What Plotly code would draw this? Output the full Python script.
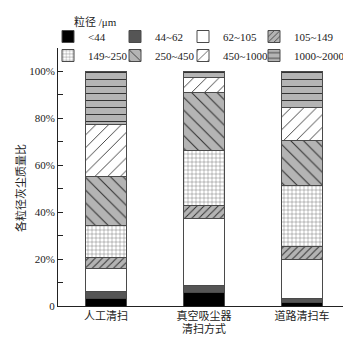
import plotly.graph_objects as go

methods = ["人工清扫", "真空吸尘器", "道路清扫车"]
size_classes = ["<44", "44~62", "62~105", "105~149", "149~250", "250~450", "450~1000", "1000~2000"]
# mass fraction (%) of each size class, per cleaning method
v_lt44 = [3.0, 5.6, 1.6]
v_44_62 = [3.3, 3.1, 1.8]
v_62_105 = [9.6, 28.5, 16.4]
v_105_149 = [4.9, 5.7, 5.4]
v_149_250 = [13.7, 23.2, 26.0]
v_250_450 = [20.9, 24.9, 19.2]
v_450_1000 = [21.8, 6.3, 14.2]
v_1000_2000 = [22.8, 2.7, 15.4]
series = [v_lt44, v_44_62, v_62_105, v_105_149, v_149_250, v_250_450, v_450_1000, v_1000_2000]

y_tick_vals = [0, 20, 40, 60, 80, 100]
y_tick_text = ["0", "20%", "40%", "60%", "80%", "100%"]

styles = [
    dict(bg="#000000", shape="", size=8, sol=0.3),
    dict(bg="#555555", shape="", size=8, sol=0.3),
    dict(bg="#ffffff", shape="", size=8, sol=0.3),
    dict(bg="#b4b4b4", shape="/", size=5, sol=0.2),
    dict(bg="#ffffff", shape="+", size=4, sol=0.15),
    dict(bg="#b4b4b4", shape="\\", size=9, sol=0.12),
    dict(bg="#ffffff", shape="/", size=9, sol=0.1),
    dict(bg="#b4b4b4", shape="-", size=7, sol=0.15),
]

FONT = "'Liberation Serif', 'Noto Sans CJK SC', serif"
W, H = 351, 338
L, R, T, B = 50, 8, 40, 40
PW, PH = W - L - R, H - T - B
legend_ids = ["legend", "legend2", "legend3", "legend4"]

fig = go.Figure()
for i, (name, vals, st) in enumerate(zip(size_classes, series, styles)):
    marker = dict(color=st["bg"], line=dict(color="#4a4a4a", width=1))
    if st["shape"]:
        marker["pattern"] = dict(shape=st["shape"], bgcolor=st["bg"], fgcolor="#333333",
                                 size=st["size"], solidity=st["sol"], fillmode="replace")
    fig.add_trace(go.Bar(x=list(range(len(methods))), y=vals, name=name, width=0.41,
                         marker=marker, legend=legend_ids[i % 4]))

legend_common = dict(
    orientation="v", xanchor="left", xref="container",
    y=1 - 14 / H, yanchor="top", yref="container",
    font=dict(size=11), tracegroupgap=0, itemwidth=30,
    traceorder="normal", bgcolor="rgba(0,0,0,0)",
)
col_x = [40, 107, 175, 246]
legend_layout = {lid: dict(legend_common, x=cx / W) for lid, cx in zip(legend_ids, col_x)}

fig.update_layout(
    barmode="stack",
    width=W, height=H,
    margin=dict(l=L, r=R, t=T, b=B, autoexpand=False),
    paper_bgcolor="white", plot_bgcolor="white",
    font=dict(family=FONT, size=11, color="#222"),
    showlegend=True,
    **legend_layout,
    xaxis=dict(
        tickmode="array", tickvals=list(range(len(methods))), ticktext=methods,
        range=[-0.49, 2.5], showline=True, linecolor="#222", linewidth=1,
        ticks="", showgrid=False, zeroline=False,
        tickfont=dict(size=11),
    ),
    yaxis=dict(
        range=[0, 110], tickmode="array", tickvals=y_tick_vals, ticktext=y_tick_text,
        ticks="inside", ticklen=5, tickcolor="#222",
        minor=dict(tickmode="array", tickvals=[10, 30, 50, 70, 90, 110], ticks="inside",
                   ticklen=5, tickcolor="#222"),
        showline=True, linecolor="#222", linewidth=1, showgrid=False, zeroline=False,
        tickfont=dict(size=11),
    ),
)
fig.add_annotation(text="粒径 /μm", xref="paper", yref="paper",
                   x=(64 - L) / PW, y=(H - B - 13) / PH,
                   xanchor="left", yanchor="middle", showarrow=False, font=dict(size=11))
fig.add_annotation(text="各粒径灰尘质量比", xref="paper", yref="paper",
                   x=(12 - L) / PW, y=(H - B - 180) / PH, textangle=-90,
                   xanchor="center", yanchor="middle", showarrow=False, font=dict(size=11))
fig.add_annotation(text="清扫方式", xref="paper", yref="paper",
                   x=(196 - L) / PW, y=(H - B - 320) / PH,
                   xanchor="center", yanchor="middle", showarrow=False, font=dict(size=11))
fig.add_shape(type="line", xref="paper", yref="paper", x0=1, x1=1, y0=0, y1=0.02,
              line=dict(color="#222", width=1))
fig.write_html("out.html")
